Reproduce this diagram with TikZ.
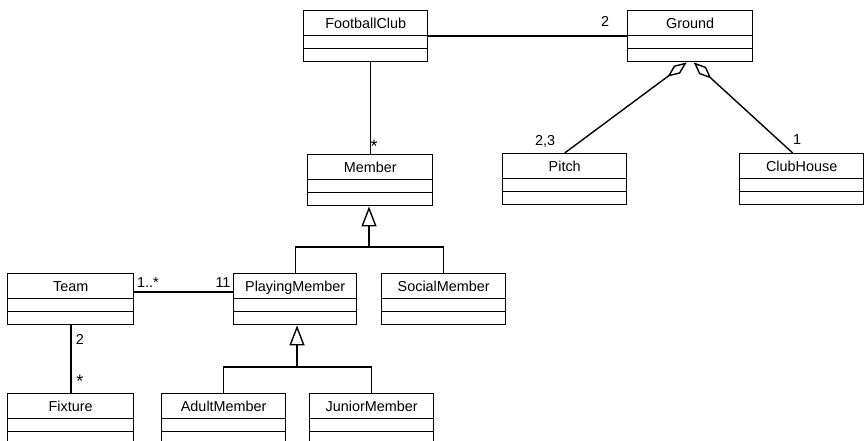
\documentclass[tikz,border=0pt]{standalone}
\usepackage{fontspec}
\setmainfont{Liberation Sans}
\usetikzlibrary{arrows.meta}

\begin{document}
\begin{tikzpicture}[x=1pt, y=-1pt, line width=1.4pt,
  cls/.style={draw, anchor=north west, inner sep=0pt, minimum width=124pt,
    text height=18pt, text depth=33pt, font=\fontsize{14.4}{16}\selectfont,
    path picture={
      \draw ([yshift=-25pt]path picture bounding box.north west) -- ([yshift=-25pt]path picture bounding box.north east);
      \draw ([yshift=-38pt]path picture bounding box.north west) -- ([yshift=-38pt]path picture bounding box.north east);
    }},
  mult/.style={font=\fontsize{14.4}{16}\selectfont, inner sep=0pt},
  star/.style={font=\fontsize{18}{20}\selectfont, inner sep=0pt},
  inherit/.style={-{Triangle[open, length=20pt, width=15pt]}},
  agg/.style={-{Diamond[open, length=24pt, width=10pt]}}]
  \useasboundingbox (0,0) rectangle (866,441);
  % classes
  \node[cls] (fc) at (303,10) {FootballClub};
  \node[cls, minimum width=125pt] (ground) at (627,10) {Ground};
  \node[cls, minimum width=125pt] (member) at (307,154) {Member};
  \node[cls] (pitch) at (502,153) {Pitch};
  \node[cls] (clubhouse) at (739,153) {ClubHouse};
  \node[cls, minimum width=126pt] (team) at (7,273) {Team};
  \node[cls, minimum width=123pt] (playing) at (233,273) {PlayingMember};
  \node[cls] (social) at (381,273) {SocialMember};
  \node[cls, minimum width=126pt] (fixture) at (7,393) {Fixture};
  \node[cls] (adult) at (161,393) {AdultMember};
  \node[cls] (junior) at (309,393) {JuniorMember};
  % associations
  \draw (fc.east |- 0,36) -- (ground.west |- 0,36);
  \draw (member.north) -- (member.north |- fc.south);
  \draw (team.east |- 0,292) -- (playing.west |- 0,292);
  \draw (fixture.north -| 71,0) -- (team.south -| 71,0);
  % aggregations
  \draw[agg] (pitch.north) -- ([xshift=-3.5pt]ground.south);
  \draw[agg] ([xshift=-9pt]clubhouse.north) -- ([xshift=3.5pt]ground.south);
  % generalisations
  \coordinate (mbar) at (369,247);
  \coordinate (pbar) at (297,367);
  \draw[inherit] (mbar) -- (member.south -| mbar);
  \draw (playing.north) |- (social.north |- mbar) -- (social.north);
  \draw[inherit] (pbar) -- (playing.south -| pbar);
  \draw (adult.north) |- (junior.north |- pbar) -- (junior.north);
  % multiplicities
  \node[mult] (m1) at (605,21) {2};
  \node[star] (m2) at (374,146) {*};
  \node[mult] (m3) at (545,141) {2,3};
  \node[mult] (m4) at (797,140) {1};
  \node[mult] (m5) at (148,283) {1..*};
  \node[mult] (m6) at (223,283) {11};
  \node[mult] (m7) at (80,339) {2};
  \node[star] (m8) at (80,381) {*};
\end{tikzpicture}
\end{document}
